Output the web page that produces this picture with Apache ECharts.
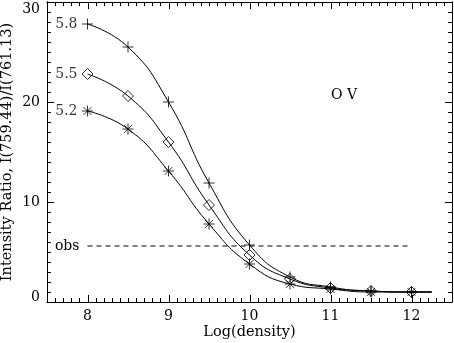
<!DOCTYPE html>
<html><head><meta charset="utf-8">
<script src="https://cdn.jsdelivr.net/npm/echarts@6/dist/echarts.min.js"></script>
<style>html,body{margin:0;padding:0;background:#fff}#c{width:454px;height:343px}</style>
</head><body><div id="c"></div>
<script>
// densities (log) where model values are marked
const densities = [8, 8.5, 9, 9.5, 10, 10.5, 11, 11.5, 12];
// marker values for log T = 5.8, 5.5, 5.2
const ratio58 = [27.8, 25.5, 20.0, 11.9, 5.7, 2.5, 1.5, 1.1, 1.0];
const ratio55 = [22.8, 20.6, 16.0, 9.7, 4.7, 2.3, 1.4, 1.1, 1.0];
const ratio52 = [19.1, 17.3, 13.1, 7.8, 3.8, 1.8, 1.3, 1.0, 1.0];
// curve end
const curveEndX = 12.25;
const curveEnd58 = 1.0, curveEnd55 = 1.0, curveEnd52 = 1.0;
// observed ratio
const obsValue = 5.6;
const obsRange = [8, 12];
// axis ranges and tick labels
const xRange = [7.5, 12.5];
const yRange = [0, 30];
const xMajor = [8, 9, 10, 11, 12];
const yMajor = [0, 10, 20, 30];
const seriesLabels = ['5.8', '5.5', '5.2'];

const FONT = 'DejaVu Serif';
const xMinor = [];
for (let i = 76; i <= 124; i++) { if (i % 10 !== 0) xMinor.push(i / 10); }
const yMinor = [];
for (let i = 1; i < 30; i++) { if (i % 10 !== 0) yMinor.push(i); }

function curve(vals, endY) {
  const d = densities.map((x, i) => [x, vals[i]]);
  d.push([curveEndX, endY]);
  return d;
}
function pts(vals) { return densities.map((x, i) => [x, vals[i]]); }

const plusPath = 'path://M0,5L10,5M5,0L5,10';
const starPath = 'path://M0,5L10,5M5,0L5,10M1.5,1.5L8.5,8.5M1.5,8.5L8.5,1.5';
const diamPath = 'path://M5,0L10,5L5,10L0,5Z';

const lineCommon = { type: 'line', smooth: 0.5, showSymbol: false, symbol: 'none',
  lineStyle: { color: '#000', width: 1 }, xAxisIndex: 0, yAxisIndex: 0, z: 2, silent: true };
function scatter(vals, sym, lab) {
  return { type: 'scatter', data: pts(vals), symbol: sym, symbolSize: 11, xAxisIndex: 0, yAxisIndex: 0, z: 3,
    itemStyle: { color: 'transparent', borderColor: '#000', borderWidth: 1 },
    label: { show: true, position: 'left', distance: 4, color: '#000', fontFamily: FONT, fontSize: 14,
      formatter: (p) => p.dataIndex === 0 ? lab : '' } };
}
function xAx(pos, labels) {
  const a = { type: 'value', position: pos, min: xRange[0], max: xRange[1], gridIndex: 0,
    axisLine: { show: true, onZero: false, lineStyle: { color: '#000', width: 1 } },
    axisTick: { show: false },
    axisLabel: { show: labels, customValues: xMajor, color: '#000', fontFamily: FONT, fontSize: 14, margin: 7 },
    splitLine: { show: false } };
  if (labels) { a.name = 'Log(density)'; a.nameLocation = 'middle'; a.nameGap = 23; a.nameMoveOverlap = false;
    a.nameTextStyle = { color: '#000', fontFamily: FONT, fontSize: 14.5 }; }
  return a;
}
function yAx(pos, ticks, len, labels) {
  const a = { type: 'value', position: pos, min: yRange[0], max: yRange[1], gridIndex: 0,
    axisLine: { show: true, onZero: false, lineStyle: { color: '#000', width: 1 } },
    axisTick: { show: true, inside: true, length: len, customValues: ticks, lineStyle: { color: '#000', width: 1 } },
    axisLabel: { show: labels, customValues: yMajor, color: '#000', fontFamily: FONT, fontSize: 14, margin: 7,
      verticalAlignMaxLabel: 'top',
      formatter: (v) => v === yRange[0] ? '{z|' + v + '}' : String(v),
      rich: { z: { fontFamily: FONT, fontSize: 14, color: '#000', padding: [0, 0, 9, 0] } } },
    splitLine: { show: false } };
  if (labels) { a.name = 'Intensity Ratio, I(759.44)/I(761.13)'; a.nameLocation = 'middle'; a.nameGap = 32; a.nameMoveOverlap = false;
    a.nameTextStyle = { color: '#000', fontFamily: FONT, fontSize: 14.5 }; }
  return a;
}

// x-axis ticks (major + minor), drawn through the axis scale on bottom and top edges
const xTickValues = xMajor.concat(xMinor);
const xTicks = {
  type: 'custom', xAxisIndex: 0, yAxisIndex: 0, clip: false, silent: true, z: 4,
  data: xTickValues.map(v => [v]),
  encode: { x: 0 },
  renderItem: (params, api) => {
    const v = api.value(0);
    const len = xMajor.indexOf(v) >= 0 ? 7 : 4;
    const b = api.coord([v, yRange[0]]);
    const t = api.coord([v, yRange[1]]);
    const x = Math.round(b[0]) + 0.5;
    return { type: 'group', children: [
      { type: 'line', shape: { x1: x, y1: b[1], x2: x, y2: b[1] - len }, style: { stroke: '#000', lineWidth: 1 } },
      { type: 'line', shape: { x1: x, y1: t[1], x2: x, y2: t[1] + len }, style: { stroke: '#000', lineWidth: 1 } }
    ] };
  }
};

const chart = echarts.init(document.getElementById('c'), null, { renderer: 'canvas' });
chart.setOption({
  animation: false,
  backgroundColor: '#fff',
  grid: { left: 47, right: 2, top: 2, bottom: 41, outerBoundsMode: 'none' },
  xAxis: [xAx('bottom', true), xAx('top', false)],
  yAxis: [yAx('left', yMajor, 7, true), yAx('left', yMinor, 4, false), yAx('right', yMajor, 7, false), yAx('right', yMinor, 4, false)],
  graphic: [{ type: 'text', left: 331, top: 88, style: { text: 'O V', fill: '#000', font: '14px "DejaVu Serif"' } }],
  series: [
    Object.assign({ data: curve(ratio58, curveEnd58) }, lineCommon),
    Object.assign({ data: curve(ratio55, curveEnd55) }, lineCommon),
    Object.assign({ data: curve(ratio52, curveEnd52) }, lineCommon),
    scatter(ratio58, plusPath, seriesLabels[0]),
    scatter(ratio55, diamPath, seriesLabels[1]),
    scatter(ratio52, starPath, seriesLabels[2]),
    { type: 'line', data: obsRange.map(x => [x, obsValue]), showSymbol: false, symbol: 'none', xAxisIndex: 0, yAxisIndex: 0,
      lineStyle: { color: '#000', width: 1, type: [5, 4] },
      markPoint: { symbol: 'circle', symbolSize: 0, data: [{ coord: [obsRange[0], obsValue], label: { show: true, formatter: 'obs', position: 'left', distance: 8, color: '#000', fontFamily: FONT, fontSize: 14 } }] } },
    xTicks
  ]
});
</script></body></html>
